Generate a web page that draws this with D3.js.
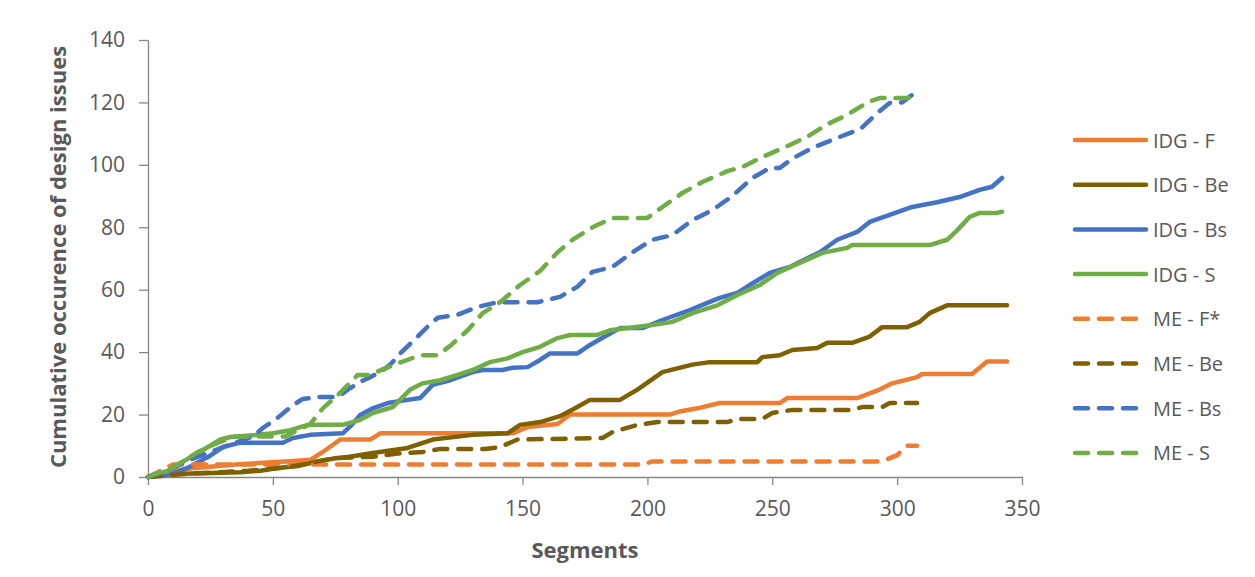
<!DOCTYPE html>
<html>
<head>
<meta charset="utf-8">
<script src="https://cdn.jsdelivr.net/npm/d3@7"></script>
<style>
  html, body { margin: 0; padding: 0; background: #ffffff; }
  svg { display: block; }
  text { font-family: "Open Sans", "Noto Sans", sans-serif; fill: #595959; }
</style>
</head>
<body>
<svg id="chart" width="1255" height="577"></svg>
<script>
// Cumulative design-issue counts per segment: [segment, cumulative count]
const idgF = [[0,0],[10,2],[20,3],[35,4],[55,5],[65,5.5],[70,8],[77,12],[89,12],[93,14],[146,14],[152,16],[164,17],[169,20],[209,20],[213,21],[220,22],[229,23.7],[253,23.7],[256,25.3],[284,25.3],[293,28],[298,30],[308,32],[310,33],[330,33],[336,37],[344,37]];
const idgBe = [[0,0],[10,1],[37,1.5],[45,2],[53,3],[60,3.5],[68,5],[75,6],[80,6.4],[90,7.7],[104,9.3],[114,12],[130,13.5],[144,14],[149,16.7],[157,17.6],[165,19.5],[171,22],[177,24.7],[189,24.7],[196,28],[206,33.6],[218,36],[225,36.8],[244,36.8],[246,38.4],[253,39],[258,40.7],[268,41.3],[272,43],[282,43],[289,45],[294,48],[304,48],[309,49.7],[313,52.5],[320,55],[344,55]];
const idgBs = [[0,0],[10,1],[16,3],[24,6.4],[30,9.6],[37,11],[54,11],[58,12.5],[65,13.5],[78,14],[82,17],[85,19.9],[90,22],[96,23.7],[104,24.7],[109,25.3],[114,29.5],[121,31],[130,33.6],[134,34.3],[142,34.3],[146,35],[152,35.2],[157,37.5],[161,39.6],[172,39.6],[177,42.3],[184,45.5],[189,47.7],[198,47.7],[206,50.3],[217,53.5],[224,55.8],[229,57.4],[236,59],[242,62],[249,65.4],[257,67.3],[261,68.9],[269,72],[276,76],[284,78.5],[289,81.7],[297,84],[306,86.5],[316,88],[325,89.7],[333,92],[338,93],[342,95.8]];
const idgS = [[0,0],[8,2],[13,4.5],[20,7.7],[29,12],[33,12.8],[44,13.5],[50,14],[57,15],[64,16.7],[78,16.7],[85,18.3],[90,20.5],[98,22.4],[105,28],[110,30],[117,31],[124,32.7],[130,34.3],[137,36.8],[144,38],[150,40],[157,41.7],[164,44.5],[169,45.5],[180,45.5],[185,47],[202,48.7],[210,49.7],[218,52.5],[228,55],[236,58.3],[245,61.5],[252,65.4],[261,68.6],[270,71.8],[280,73.4],[282,74.3],[313,74.3],[320,76],[324,79],[329,83.3],[333,84.6],[340,84.6],[342,85]];
const meF = [[0,0],[5,2],[10,4],[198,4],[202,5],[294,5],[300,7],[304,10],[308,10]];
const meBe = [[0,0],[15,1],[40,2],[55,3],[62,4],[68,5],[75,6],[90,6.5],[100,7.5],[110,8],[117,9],[135,9],[141,9.6],[148,12],[182,12.5],[186,14.4],[196,16.7],[204,17.6],[232,17.6],[236,18.6],[246,18.6],[250,20.5],[258,21.5],[282,21.5],[286,22.4],[294,22.4],[297,23.7],[308,23.7]];
const meBs = [[0,0],[8,2],[15,5],[25,8],[35,11],[42,13],[46,15.7],[52,19],[58,23],[62,25],[68,25.6],[76,25.6],[80,28],[85,30.5],[89,32],[93,33.6],[97,36],[101,39.6],[108,45],[113,49],[116,51],[124,52],[132,54.5],[140,56],[156,56],[165,57.7],[172,61],[178,65.7],[186,67.3],[194,72],[202,76],[210,77.5],[218,82.3],[226,85.5],[234,90],[242,95.8],[249,99],[253,99],[258,102],[266,105.4],[274,108],[282,110.5],[286,112],[292,116.6],[297,119.8],[302,120],[306,122.4],[308,124.6]];
const meS = [[0,0],[10,3],[20,8],[28,11],[35,13],[55,13],[60,15],[65,17],[70,22],[77,27],[84,32.7],[89,32.7],[94,34.5],[102,37],[109,39],[116,39],[121,42],[128,47],[134,52.5],[141,56],[149,61.5],[157,66],[164,72],[170,76],[178,80],[186,83],[200,83],[206,86.5],[214,91],[222,94.5],[232,98],[238,99.3],[246,102.5],[256,106],[264,109],[272,113],[280,116],[288,120],[293,121.4],[308,121.4]];

const seriesNames = ["IDG - F","IDG - Be","IDG - Bs","IDG - S","ME - F*","ME - Be","ME - Bs","ME - S"];
const seriesValues = [idgF, idgBe, idgBs, idgS, meF, meBe, meBs, meS];
const xTicks = [0,50,100,150,200,250,300,350];
const yTicks = [0,20,40,60,80,100,120,140];

const colors = ["#ED7D31","#7F6000","#4472C4","#70AD47","#ED7D31","#7F6000","#4472C4","#70AD47"];
const dashed = [false,false,false,false,true,true,true,true];

const svg = d3.select("#chart");
const margin = {left: 148, top: 40};
const plotW = 874, plotH = 437;

const x = d3.scaleLinear().domain([0, 350]).range([margin.left, margin.left + plotW]);
const y = d3.scaleLinear().domain([0, 140]).range([margin.top + plotH, margin.top]);

const axisColor = "#868686";

// Y axis
const yAxis = svg.append("g")
  .attr("transform", `translate(${margin.left},0)`)
  .call(d3.axisLeft(y).tickValues(yTicks).tickSize(9).tickPadding(14).tickSizeOuter(0));
// X axis
const xAxis = svg.append("g")
  .attr("transform", `translate(0,${margin.top + plotH})`)
  .call(d3.axisBottom(x).tickValues(xTicks).tickSize(8).tickPadding(16).tickSizeOuter(0));

[yAxis, xAxis].forEach(g => {
  g.select(".domain").attr("stroke", axisColor).attr("stroke-width", 1.3);
  g.selectAll(".tick line").attr("stroke", axisColor).attr("stroke-width", 1.3);
  g.selectAll(".tick text")
    .attr("fill", "#595959")
    .style("font-family", '"Open Sans", sans-serif')
    .style("font-size", "21px");
});

// Series lines
const line = d3.line().x(d => x(d[0])).y(d => y(d[1]));
seriesValues.forEach((vals, i) => {
  svg.append("path")
    .datum(vals)
    .attr("d", line)
    .attr("fill", "none")
    .attr("stroke", colors[i])
    .attr("stroke-width", 4.5)
    .attr("stroke-linejoin", "round")
    .attr("stroke-linecap", "round")
    .attr("stroke-dasharray", dashed[i] ? "13,11" : null);
});

// Axis titles
svg.append("text")
  .attr("transform", "translate(57,257) rotate(-90)")
  .attr("text-anchor", "middle")
  .attr("dominant-baseline", "central")
  .style("font-size", "22px")
  .style("font-weight", "bold")
  .text("Cumulative occurence of design issues");

svg.append("text")
  .attr("x", 585)
  .attr("y", 549)
  .attr("text-anchor", "middle")
  .attr("dominant-baseline", "central")
  .style("font-size", "22px")
  .style("font-weight", "bold")
  .text("Segments");

// Legend
const legend = svg.append("g").attr("transform", "translate(1073,140)");
seriesNames.forEach((name, i) => {
  const row = legend.append("g").attr("transform", `translate(0,${i * 44.7})`);
  row.append("line")
    .attr("x1", 2).attr("x2", 73).attr("y1", 0).attr("y2", 0)
    .attr("stroke", colors[i])
    .attr("stroke-width", 4.5)
    .attr("stroke-linecap", "round")
    .attr("stroke-dasharray", dashed[i] ? "13,11" : null);
  row.append("text")
    .attr("x", 80)
    .attr("y", 0)
    .attr("dominant-baseline", "central")
    .style("font-size", "20px")
    .text(name);
});
</script>
</body>
</html>
